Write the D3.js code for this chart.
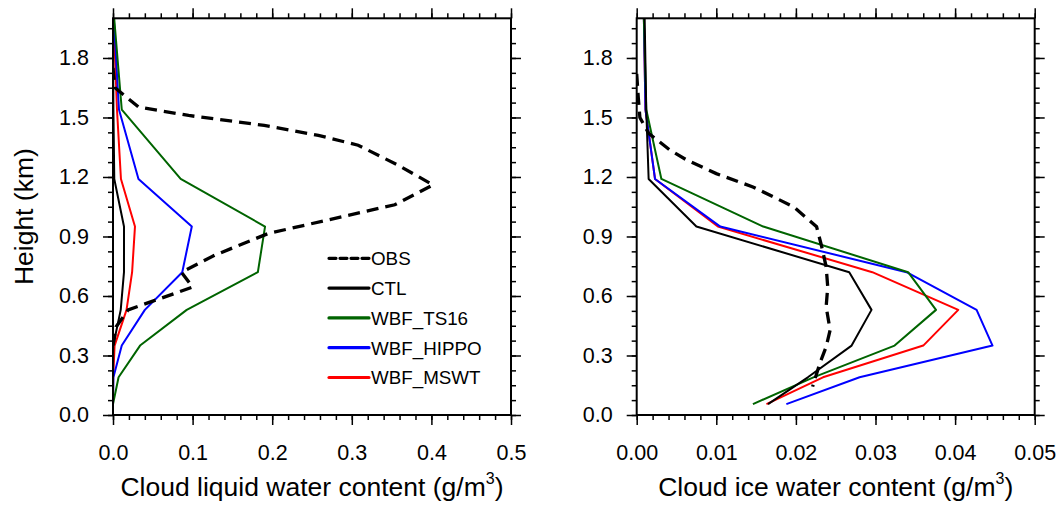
<!DOCTYPE html>
<html><head><meta charset="utf-8">
<script src="https://cdn.jsdelivr.net/npm/d3@7"></script>
<style>
html,body{margin:0;padding:0;background:#fff;}
svg{display:block;font-family:"Liberation Sans",Arial,Helvetica,sans-serif;}
</style></head>
<body>
<svg id="chart" width="1061" height="508"></svg>
<script>
// ---- data ----
const seriesNames = ["OBS","CTL","WBF_TS16","WBF_HIPPO","WBF_MSWT"];
const seriesColors = ["#000000","#000000","#006400","#0000ff","#ff0000"];
const modelHeights = [0.055, 0.19, 0.35, 0.53, 0.72, 0.95, 1.19, 1.54, 2.0];

// Cloud liquid water content (g/m3)
const lwcCTL   = [0, 0, 0.0003, 0.0097, 0.0138, 0.0138, 0.0016, 0.0005, 0.0];
const lwcTS16  = [0, 0.007, 0.034, 0.0926, 0.182, 0.191, 0.085, 0.011, 0.0015];
const lwcHIPPO = [0, 0.0005, 0.011, 0.040, 0.087, 0.099, 0.032, 0.0075, 0.001];
const lwcMSWT  = [0, 0.0002, 0.002, 0.017, 0.024, 0.0276, 0.010, 0.005, 0.0008];
const lwcObsH  = [1.75, 1.65, 1.553, 1.51, 1.46, 1.41, 1.36, 1.26, 1.16, 1.06, 0.915, 0.806, 0.72, 0.645, 0.53, 0.445, 0.35];
const lwcObs   = [0, 0.0025, 0.032, 0.095, 0.19, 0.258, 0.308, 0.358, 0.402, 0.354, 0.195, 0.128, 0.086, 0.100, 0.019, 0.004, 0];

// Cloud ice water content (g/m3)
const iwcCTL   = [0.0165, 0.0215, 0.0270, 0.0295, 0.0267, 0.0075, 0.0015, 0.0012, 0.0010];
const iwcTS16  = [0.0146, 0.0222, 0.0324, 0.0376, 0.0341, 0.0159, 0.0031, 0.0012, 0.0009];
const iwcHIPPO = [0.0188, 0.0280, 0.0447, 0.0427, 0.0339, 0.0105, 0.0023, 0.0011, 0.0009];
const iwcMSWT  = [0.0163, 0.0234, 0.0360, 0.0404, 0.0296, 0.0102, 0.0023, 0.0011, 0.0009];
const iwcObsH  = [1.72, 1.6, 1.5, 1.42, 1.335, 1.285, 1.217, 1.15, 1.05, 0.949, 0.856, 0.747, 0.646, 0.546, 0.428, 0.344, 0.26, 0.143];
const iwcObs   = [0, 0.0002, 0.0004, 0.0015, 0.0042, 0.0063, 0.010, 0.0146, 0.0197, 0.0226, 0.0232, 0.0238, 0.0240, 0.0238, 0.0243, 0.0238, 0.0230, 0.0221];

const yTicks = [0.0, 0.3, 0.6, 0.9, 1.2, 1.5, 1.8];
const lwcTicks = [0, 0.1, 0.2, 0.3, 0.4, 0.5];
const iwcTicks = [0, 0.01, 0.02, 0.03, 0.04, 0.05];

// ---- drawing ----
const svg = d3.select("#chart");
const H0 = 415, H1 = 18.3;
const y = d3.scaleLinear().domain([0, 2.0]).range([H0, H1]);

function panel(cfg){
  const x = d3.scaleLinear().domain(cfg.xDomain).range([cfg.x0, cfg.x0 + 398]);
  const g = svg.append("g");
  const clipId = "clip" + cfg.id;
  svg.append("clipPath").attr("id", clipId).append("rect")
    .attr("x", cfg.x0).attr("y", H1).attr("width", 398).attr("height", H0 - H1);

  const line = d3.line().x(d => x(d[0])).y(d => y(d[1]));
  const lines = g.append("g").attr("clip-path", `url(#${clipId})`);
  const models = cfg.models;
  [4,3,2,1].forEach(i => {
    lines.append("path")
      .attr("d", line(modelHeights.map((h, k) => [models[i-1][k], h])))
      .attr("fill", "none").attr("stroke", seriesColors[i])
      .attr("stroke-width", 2).attr("stroke-linejoin", "round");
  });
  lines.append("path")
    .attr("d", line(cfg.obsH.map((h, k) => [cfg.obs[k], h])))
    .attr("fill", "none").attr("stroke", "#000")
    .attr("stroke-width", 3.3).attr("stroke-dasharray", "12,7");

  const minorX = d3.range(cfg.xDomain[0], cfg.xDomain[1] + cfg.minorStep/2, cfg.minorStep);
  const minorY = d3.range(0, 2.0001, 0.075);
  const axB = d3.axisBottom(x).tickValues(cfg.ticks).tickFormat(cfg.fmt).tickSize(10).tickPadding(20);
  const axT = d3.axisTop(x).tickValues(cfg.ticks).tickFormat("").tickSize(10);
  const axL = d3.axisLeft(y).tickValues(yTicks).tickFormat(d3.format(".1f")).tickSize(10).tickPadding(14);
  const axR = d3.axisRight(y).tickValues(yTicks).tickFormat("").tickSize(10);
  const mB = d3.axisBottom(x).tickValues(minorX).tickFormat("").tickSize(5);
  const mT = d3.axisTop(x).tickValues(minorX).tickFormat("").tickSize(5);
  const mL = d3.axisLeft(y).tickValues(minorY).tickFormat("").tickSize(5);
  const mR = d3.axisRight(y).tickValues(minorY).tickFormat("").tickSize(5);
  const axes = [
    [mB, `translate(0,${H0})`], [mT, `translate(0,${H1})`],
    [mL, `translate(${cfg.x0},0)`], [mR, `translate(${cfg.x0+398},0)`],
    [axB, `translate(0,${H0})`], [axT, `translate(0,${H1})`],
    [axL, `translate(${cfg.x0},0)`], [axR, `translate(${cfg.x0+398},0)`]
  ];
  axes.forEach(([a, t]) => {
    const ag = g.append("g").attr("transform", t).call(a);
    ag.select(".domain").remove();
    ag.selectAll("line").attr("stroke", "#000").attr("stroke-width", 1.5);
    ag.selectAll("text").attr("fill", "#000").attr("font-size", 21.5)
      .attr("font-family", "Liberation Sans, Arial, sans-serif");
  });
  g.append("rect").attr("x", cfg.x0).attr("y", H1).attr("width", 398).attr("height", H0 - H1)
    .attr("fill", "none").attr("stroke", "#000").attr("stroke-width", 2);

  const t = g.append("text").attr("x", cfg.x0 + 199).attr("y", 496)
    .attr("text-anchor", "middle").attr("font-size", 26.5).attr("fill", "#000");
  t.append("tspan").text(cfg.title + " (g/m");
  t.append("tspan").attr("font-size", 16).attr("dy", -12).text("3");
  t.append("tspan").attr("dy", 12).text(")");
  return x;
}

panel({id: "L", x0: 113, xDomain: [0, 0.5], minorStep: 0.02, ticks: lwcTicks,
  fmt: d3.format(".1f"), title: "Cloud liquid water content",
  models: [lwcCTL, lwcTS16, lwcHIPPO, lwcMSWT], obs: lwcObs, obsH: lwcObsH});
panel({id: "R", x0: 636.7, xDomain: [0, 0.05], minorStep: 0.002, ticks: iwcTicks,
  fmt: d3.format(".2f"), title: "Cloud ice water content",
  models: [iwcCTL, iwcTS16, iwcHIPPO, iwcMSWT], obs: iwcObs, obsH: iwcObsH});

svg.append("text").attr("transform", `translate(33,${(H0+H1)/2}) rotate(-90)`)
  .attr("text-anchor", "middle").attr("font-size", 26.5).attr("fill", "#000").text("Height (km)");

const leg = svg.append("g");
seriesNames.forEach((n, i) => {
  const yy = 258.3 + i * 29.8;
  leg.append("line").attr("x1", 329).attr("x2", 369).attr("y1", yy).attr("y2", yy)
    .attr("stroke", seriesColors[i]).attr("stroke-width", 3.2).attr("stroke-linecap", "round")
    .attr("stroke-dasharray", i === 0 ? "7,4" : null);
  leg.append("text").attr("x", 371).attr("y", yy + 6.8).attr("font-size", 18.8).attr("fill", "#000").text(n);
});
</script>
</body></html>
